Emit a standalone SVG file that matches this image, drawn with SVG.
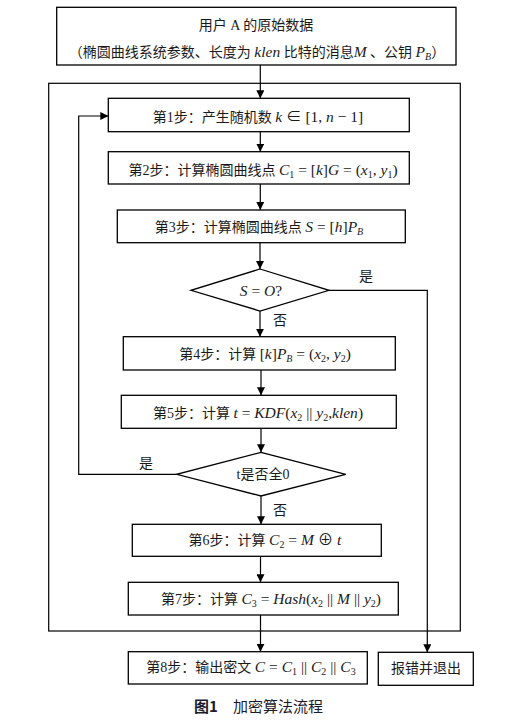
<svg xmlns="http://www.w3.org/2000/svg" width="509" height="724" viewBox="0 0 509 724">
<style>
.b{fill:#fff;stroke:#000;stroke-width:1.3}
.l{fill:none;stroke:#000;stroke-width:1.2}
text{font-family:"Liberation Serif","Noto Sans CJK SC",serif;font-size:14px;fill:#1a1a1a}
.t{text-anchor:middle}
.i{font-style:italic;font-size:15.5px}
.m{font-size:15.5px}
.s{font-size:10px;font-style:normal}
.si{font-size:10px;font-style:italic}
.cap{font-family:"Noto Sans CJK SC",sans-serif;font-size:15px;fill:#1a1a2a}
</style>
<defs>
<marker id="a" viewBox="0 0 10 10" refX="10" refY="5" markerWidth="8" markerHeight="8" markerUnits="userSpaceOnUse" orient="auto">
<path d="M0,0L10,5L0,10z" fill="#000"/>
</marker>
</defs>
<rect x="48.7" y="83.3" width="411.6" height="547.7" class="l"/>
<g id="connectors">
<line x1="260.3" y1="65" x2="260.3" y2="98.3" class="l" marker-end="url(#a)"/>
<line x1="260.3" y1="131.7" x2="260.3" y2="151.7" class="l" marker-end="url(#a)"/>
<line x1="260.3" y1="184" x2="260.3" y2="210" class="l" marker-end="url(#a)"/>
<line x1="260" y1="242.7" x2="260" y2="269" class="l" marker-end="url(#a)"/>
<line x1="260" y1="311" x2="260" y2="336.7" class="l" marker-end="url(#a)"/>
<line x1="261" y1="370" x2="261" y2="395.3" class="l" marker-end="url(#a)"/>
<line x1="261" y1="428.3" x2="261" y2="452.3" class="l" marker-end="url(#a)"/>
<line x1="261" y1="496" x2="261" y2="524.3" class="l" marker-end="url(#a)"/>
<line x1="260.5" y1="556.3" x2="260.5" y2="582.3" class="l" marker-end="url(#a)"/>
<line x1="260.5" y1="615" x2="260.5" y2="651.7" class="l" marker-end="url(#a)"/>
<polyline points="176.7,474.3 78.7,474.3 78.7,116 108.3,116" class="l" marker-end="url(#a)"/>
<polyline points="329,290.3 427.3,290.3 427.3,652.3" class="l" marker-end="url(#a)"/>
<text x="359" y="281">是</text>
<text x="273" y="325">否</text>
<text x="139" y="468">是</text>
<text x="273" y="515">否</text>
</g>
<g id="start">
<rect x="56.7" y="7.3" width="399.3" height="57.7" class="b"/>
<text x="256" y="30" class="t">用户 A 的原始数据</text>
<text x="257" y="57" class="t">（椭圆曲线系统参数、长度为 <tspan class="i">klen</tspan> 比特的消息<tspan class="i">M</tspan> 、公钥 <tspan class="i">P</tspan><tspan class="si" dy="3">B</tspan><tspan dy="-3">）</tspan></text>
</g>
<g id="step1">
<rect x="108.3" y="98.3" width="301" height="33.4" class="b"/>
<text x="258" y="122" class="t">第1步：产生随机数 <tspan class="i">k</tspan><tspan class="m"> ∈ [1, </tspan><tspan class="i">n</tspan><tspan class="m"> − 1]</tspan></text>
</g>
<g id="step2">
<rect x="108.3" y="151.7" width="301" height="32.3" class="b"/>
<text x="263" y="175" class="t">第2步：计算椭圆曲线点 <tspan class="i">C</tspan><tspan class="s" dy="3">1</tspan><tspan class="m" dy="-3"> = [</tspan><tspan class="i">k</tspan><tspan class="m">]</tspan><tspan class="i">G</tspan><tspan class="m"> = (</tspan><tspan class="i">x</tspan><tspan class="s" dy="3">1</tspan><tspan class="m" dy="-3">, </tspan><tspan class="i">y</tspan><tspan class="s" dy="3">1</tspan><tspan class="m" dy="-3">)</tspan></text>
</g>
<g id="step3">
<rect x="117.3" y="210" width="288" height="32.7" class="b"/>
<text x="259" y="232" class="t">第3步：计算椭圆曲线点 <tspan class="i">S</tspan><tspan class="m"> = [</tspan><tspan class="i">h</tspan><tspan class="m">]</tspan><tspan class="i">P</tspan><tspan class="si" dy="3">B</tspan></text>
</g>
<g id="dec1">
<polygon points="260,269 329,290.3 260,311 191,290.3" class="b"/>
<text x="261" y="296" class="t"><tspan class="i">S</tspan><tspan class="m"> = </tspan><tspan class="i">O</tspan><tspan class="m">?</tspan></text>
</g>
<g id="step4">
<rect x="123.3" y="336.7" width="272" height="33.3" class="b"/>
<text x="265" y="359" class="t">第4步：计算 <tspan class="m">[</tspan><tspan class="i">k</tspan><tspan class="m">]</tspan><tspan class="i">P</tspan><tspan class="si" dy="3">B</tspan><tspan class="m" dy="-3"> = (</tspan><tspan class="i">x</tspan><tspan class="s" dy="3">2</tspan><tspan class="m" dy="-3">, </tspan><tspan class="i">y</tspan><tspan class="s" dy="3">2</tspan><tspan class="m" dy="-3">)</tspan></text>
</g>
<g id="step5">
<rect x="121.3" y="395.3" width="275" height="33" class="b"/>
<text x="258" y="418" class="t">第5步：计算 <tspan class="i">t</tspan><tspan class="m"> = </tspan><tspan class="i">KDF</tspan><tspan class="m">(</tspan><tspan class="i">x</tspan><tspan class="s" dy="3">2</tspan><tspan class="m" dy="-3"> || </tspan><tspan class="i">y</tspan><tspan class="s" dy="3">2</tspan><tspan class="m" dy="-3">,</tspan><tspan class="i">klen</tspan><tspan class="m">)</tspan></text>
</g>
<g id="dec2">
<polygon points="261,452.3 345.7,474.3 261,496 176.7,474.3" class="b"/>
<text x="263" y="479" class="t">t是否全0</text>
</g>
<g id="step6">
<rect x="132.3" y="524.3" width="249" height="32" class="b"/>
<text x="265" y="545" class="t">第6步：计算 <tspan class="i">C</tspan><tspan class="s" dy="3">2</tspan><tspan class="m" dy="-3"> = </tspan><tspan class="i">M</tspan><tspan class="m"> ⊕ </tspan><tspan class="i">t</tspan></text>
</g>
<g id="step7">
<rect x="128.3" y="582.3" width="270" height="32.7" class="b"/>
<text x="271" y="604" class="t">第7步：计算 <tspan class="i">C</tspan><tspan class="s" dy="3">3</tspan><tspan class="m" dy="-3"> = </tspan><tspan class="i">Hash</tspan><tspan class="m">(</tspan><tspan class="i">x</tspan><tspan class="s" dy="3">2</tspan><tspan class="m" dy="-3"> || </tspan><tspan class="i">M</tspan><tspan class="m"> || </tspan><tspan class="i">y</tspan><tspan class="s" dy="3">2</tspan><tspan class="m" dy="-3">)</tspan></text>
</g>
<g id="step8">
<rect x="128.3" y="651.7" width="239" height="32.3" class="b"/>
<text x="251" y="672" class="t">第8步：输出密文 <tspan class="i">C</tspan><tspan class="m"> = </tspan><tspan class="i">C</tspan><tspan class="s" dy="3">1</tspan><tspan class="m" dy="-3"> || </tspan><tspan class="i">C</tspan><tspan class="s" dy="3">2</tspan><tspan class="m" dy="-3"> || </tspan><tspan class="i">C</tspan><tspan class="s" dy="3">3</tspan></text>
</g>
<g id="error">
<rect x="378.3" y="652.3" width="95" height="33" class="b"/>
<text x="426" y="673" class="t">报错并退出</text>
</g>
<text x="194" y="712" class="cap" font-weight="bold">图1</text>
<text x="233" y="712" class="cap">加密算法流程</text>
</svg>
